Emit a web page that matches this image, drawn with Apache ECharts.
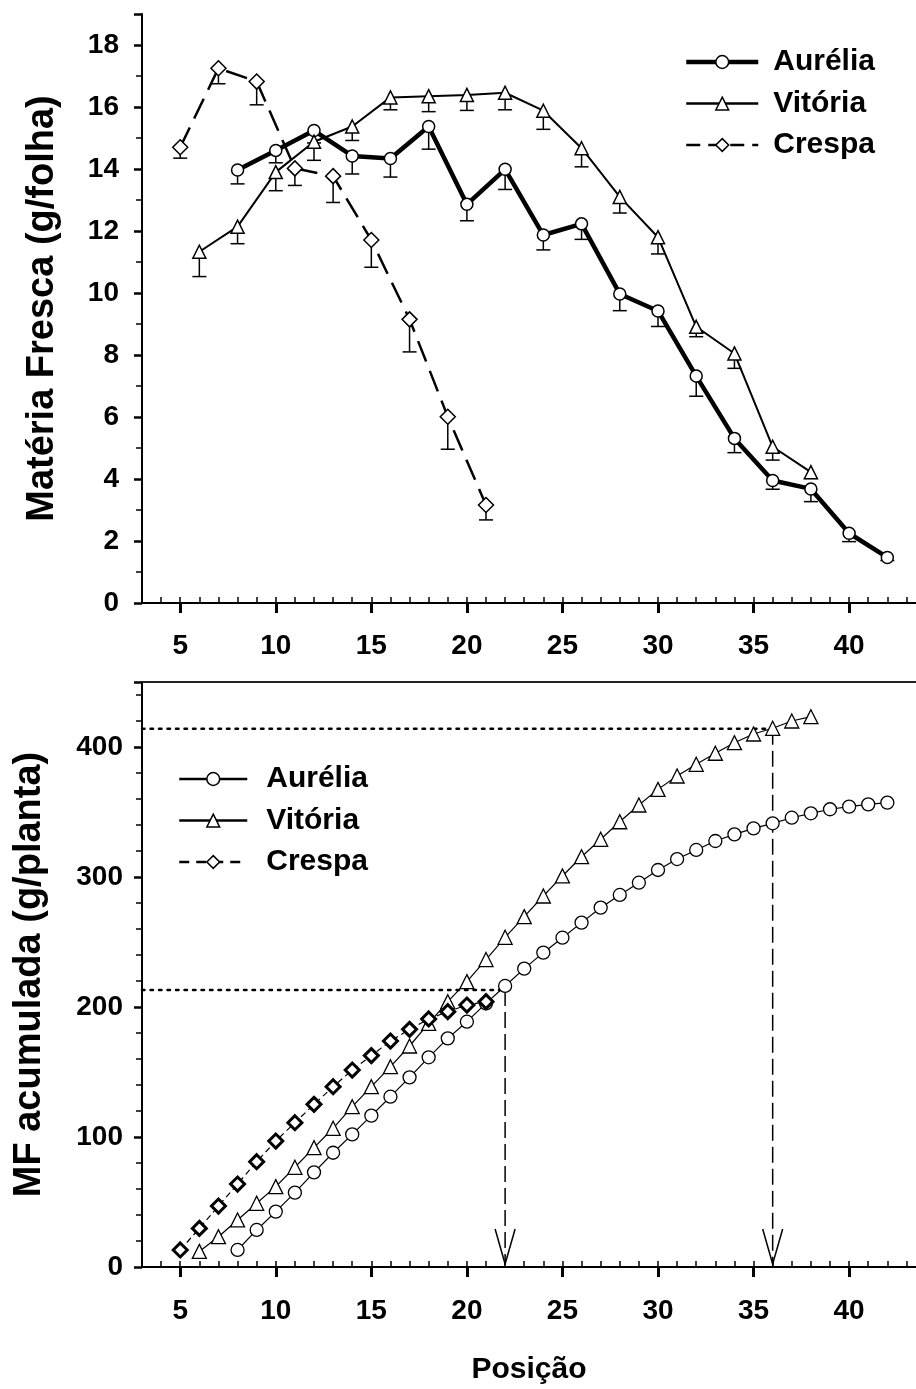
<!DOCTYPE html>
<html>
<head>
<meta charset="utf-8">
<title>Matéria fresca por posição da folha</title>
<script src="https://cdn.jsdelivr.net/npm/echarts@6/dist/echarts.min.js"></script>
<style>
  html, body { margin: 0; padding: 0; background: #fff; }
  #chart { width: 916px; height: 1389px; }
</style>
</head>
<body>
<div id="chart"></div>
<script>
// ---- Fresh mass per leaf (g/folha), by leaf position ----
const aureliaPos = [8, 10, 12, 14, 16, 18, 20, 22, 24, 26, 28, 30, 32, 34, 36, 38, 40, 42];
const aureliaMF  = [13.97, 14.6, 15.24, 14.42, 14.34, 15.37, 12.86, 13.99, 11.87, 12.23, 9.97, 9.42, 7.32, 5.31, 3.95, 3.68, 2.25, 1.47];
const aureliaErr = [0.45, 0.4, 0.4, 0.58, 0.6, 0.73, 0.53, 0.65, 0.48, 0.5, 0.54, 0.5, 0.65, 0.46, 0.28, 0.41, 0.27, 0.1];

const vitoriaPos = [6, 8, 10, 12, 14, 16, 18, 20, 22, 24, 26, 28, 30, 32, 34, 36, 38];
const vitoriaMF  = [11.33, 12.14, 13.9, 14.88, 15.37, 16.31, 16.35, 16.39, 16.46, 15.88, 14.67, 13.1, 11.8, 8.91, 8.05, 5.04, 4.22];
const vitoriaErr = [0.8, 0.55, 0.6, 0.6, 0.45, 0.4, 0.5, 0.5, 0.55, 0.6, 0.6, 0.52, 0.54, 0.32, 0.48, 0.43, 0.2];

const crespaPos = [5, 7, 9, 11, 13, 15, 17, 19, 21];
const crespaMF  = [14.7, 17.25, 16.82, 14.02, 13.77, 11.71, 9.15, 6.01, 3.16];
const crespaErr = [0.35, 0.5, 0.75, 0.55, 0.85, 0.88, 1.05, 1.05, 0.48];

// ---- Accumulated fresh mass (g/planta), by leaf position ----
const aureliaAccPos = [8, 9, 10, 11, 12, 13, 14, 15, 16, 17, 18, 19, 20, 21, 22, 23, 24, 25, 26, 27, 28, 29, 30, 31, 32, 33, 34, 35, 36, 37, 38, 39, 40, 41, 42];
const aureliaAcc = [13.1, 28.5, 42.6, 57.2, 72.8, 87.9, 102, 116.4, 131, 145.9, 161.3, 175.9, 188.7, 202.8, 216.2, 229.5, 241.8, 253.3, 264.9, 276.4, 286.2, 295.6, 305.4, 313.8, 320.8, 327.7, 332.8, 337.4, 341.3, 345.6, 349, 352.1, 354.1, 355.9, 357.2];

const vitoriaAccPos = [6, 7, 8, 9, 10, 11, 12, 13, 14, 15, 16, 17, 18, 19, 20, 21, 22, 23, 24, 25, 26, 27, 28, 29, 30, 31, 32, 33, 34, 35, 36, 37, 38];
const vitoriaAcc = [12, 23.3, 36.2, 49, 61.8, 76.7, 91.8, 106.7, 123.3, 138.7, 154.1, 170, 187.4, 204.1, 219.5, 236.5, 253.6, 269.5, 285.4, 300.8, 315.6, 329, 342.5, 355.4, 367.4, 377.7, 386.7, 395.2, 403.3, 410, 414.4, 420, 423.3];

const crespaAccPos = [5, 6, 7, 8, 9, 10, 11, 12, 13, 14, 15, 16, 17, 18, 19, 20, 21];
const crespaAcc = [13.1, 29.7, 46.9, 63.8, 81, 96.9, 111, 125.1, 138.7, 151.5, 162.6, 173.8, 182.8, 190.8, 196.4, 201.5, 204.1];

// Reference readings: position reached and accumulated mass level
const refPos   = [22, 36];
const refLevel = [213, 414];

// Axis ranges and tick positions
const xMin = 3, xMax = 43.5;
const xMajorTicks = [5, 10, 15, 20, 25, 30, 35, 40];
const xMinorTicks = [3, 4, 5, 6, 7, 8, 9, 10, 11, 12, 13, 14, 15, 16, 17, 18, 19, 20, 21, 22, 23, 24, 25, 26, 27, 28, 29, 30, 31, 32, 33, 34, 35, 36, 37, 38, 39, 40, 41, 42, 43];

const names = ['Aurélia', 'Vitória', 'Crespa'];

const zip = (xs, ys) => xs.map((x, i) => [x, ys[i]]);
const zip3 = (xs, ys, es) => xs.map((x, i) => [x, ys[i], es[i]]);

const FONT = "'Liberation Sans', Arial, sans-serif";
const BLACK = '#000';

function majorXAxis(gridIndex, withName) {
  const ax = {
    type: 'value', gridIndex, min: xMin, max: xMax,
    axisLine: { show: true, onZero: false, lineStyle: { color: BLACK, width: 2 } },
    axisTick: { show: true, inside: false, length: 10, customValues: xMajorTicks, lineStyle: { color: BLACK, width: 3 } },
    axisLabel: { show: true, customValues: xMajorTicks, margin: withName ? 30 : 29, color: BLACK, fontFamily: FONT, fontWeight: 'bold', fontSize: 28 },
    splitLine: { show: false }
  };
  if (withName) {
    Object.assign(ax, {
      name: 'Posição', nameLocation: 'middle', nameGap: 88,
      nameTextStyle: { color: BLACK, fontFamily: FONT, fontWeight: 'bold', fontSize: 30 }
    });
  }
  return ax;
}
function minorXAxis(gridIndex) {
  return {
    type: 'value', gridIndex, min: xMin, max: xMax,
    axisLine: { show: false },
    axisTick: { show: true, inside: false, length: 6, customValues: xMinorTicks, lineStyle: { color: BLACK, width: 1.5 } },
    axisLabel: { show: false },
    splitLine: { show: false }
  };
}

// Downward error bar with a horizontal cap
function errorBarItem(params, api) {
  const x = api.value(0), y = api.value(1), e = api.value(2);
  const p = api.coord([x, y]);
  const q = api.coord([x, y - e]);
  const style = { stroke: BLACK, lineWidth: 1.5 };
  return {
    type: 'group',
    children: [
      { type: 'line', shape: { x1: p[0], y1: p[1], x2: q[0], y2: q[1] }, style },
      { type: 'line', shape: { x1: q[0] - 7, y1: q[1], x2: q[0] + 7, y2: q[1] }, style }
    ]
  };
}

// Dotted level line from the y axis, dashed drop line to the x axis, open arrowhead
function refItem(params, api) {
  const x = api.value(0), lvl = api.value(1);
  const a = api.coord([xMin, lvl]);
  const b = api.coord([x, lvl]);
  const c = api.coord([x, 0]);
  return {
    type: 'group',
    children: [
      { type: 'line', shape: { x1: a[0], y1: a[1], x2: b[0], y2: b[1] },
        style: { stroke: BLACK, lineWidth: 2.5, lineDash: [2.5, 6], lineCap: 'round' } },
      { type: 'line', shape: { x1: b[0], y1: b[1], x2: c[0], y2: c[1] - 2 },
        style: { stroke: BLACK, lineWidth: 1.5, lineDash: [16, 6] } },
      { type: 'polyline', shape: { points: [[c[0] - 10, c[1] - 38], [c[0], c[1] - 3], [c[0] + 10, c[1] - 38]] },
        style: { stroke: BLACK, lineWidth: 1.5, fill: 'none' } }
    ]
  };
}

const topLineStyles = [
  { color: BLACK, width: 4.5, type: 'solid' },
  { color: BLACK, width: 2, type: 'solid' },
  { color: BLACK, width: 2.5, type: [22, 10] }
];
const topSymbols = [['circle', 12], ['triangle', 13], ['diamond', 15]];
const topData = [zip(aureliaPos, aureliaMF), zip(vitoriaPos, vitoriaMF), zip(crespaPos, crespaMF)];
const topErr = [zip3(aureliaPos, aureliaMF, aureliaErr), zip3(vitoriaPos, vitoriaMF, vitoriaErr), zip3(crespaPos, crespaMF, crespaErr)];

const botLineStyles = [
  { color: BLACK, width: 1.2, type: 'solid' },
  { color: BLACK, width: 1.2, type: 'solid' },
  { color: BLACK, width: 1.2, type: [6, 4] }
];
const botSymbols = [['circle', 13, 1.3], ['triangle', 14, 1.3], ['diamond', 14, 3]];
const botData = [zip(aureliaAccPos, aureliaAcc), zip(vitoriaAccPos, vitoriaAcc), zip(crespaAccPos, crespaAcc)];

const series = [];
// Error bars first so markers sit on top of them
topErr.forEach((d, i) => {
  series.push({
    type: 'custom', name: names[i] + ' erro', xAxisIndex: 0, yAxisIndex: 0,
    data: d, renderItem: errorBarItem, encode: { x: 0, y: 1 }, z: 1, silent: true
  });
});
topData.forEach((d, i) => {
  series.push({
    type: 'line', name: names[i], xAxisIndex: 0, yAxisIndex: 0, data: d,
    symbol: topSymbols[i][0], symbolSize: topSymbols[i][1], showAllSymbol: true,
    lineStyle: topLineStyles[i],
    itemStyle: { color: '#fff', borderColor: BLACK, borderWidth: 1.5 },
    z: 3, emphasis: { disabled: true }
  });
});
series.push({
  type: 'custom', name: 'referência', xAxisIndex: 2, yAxisIndex: 1,
  data: zip(refPos, refLevel), renderItem: refItem, encode: { x: 0, y: 1 }, z: 1, silent: true
});
botData.forEach((d, i) => {
  series.push({
    type: 'line', name: names[i], xAxisIndex: 2, yAxisIndex: 1, data: d,
    symbol: botSymbols[i][0], symbolSize: botSymbols[i][1], showAllSymbol: true,
    lineStyle: botLineStyles[i],
    itemStyle: { color: '#fff', borderColor: BLACK, borderWidth: botSymbols[i][2] },
    z: 3, emphasis: { disabled: true }
  });
});

const legendText = (pad) => ({ color: BLACK, fontFamily: FONT, fontWeight: 'bold', fontSize: 30, padding: [0, 0, 0, pad] });
const titleStyle = { color: BLACK, fontFamily: FONT, fontWeight: 'bold', fontSize: 38 };

const option = {
  animation: false,
  backgroundColor: '#fff',
  grid: [
    { left: 142, right: 0, top: 14, height: 589 },
    { left: 142, right: 0, top: 682, height: 585 }
  ],
  xAxis: [
    majorXAxis(0, false),
    minorXAxis(0),
    majorXAxis(1, true),
    minorXAxis(1),
    { // frame line along the top of the lower panel
      type: 'value', gridIndex: 1, position: 'top', min: xMin, max: xMax,
      axisLine: { show: true, onZero: false, lineStyle: { color: '#222', width: 2 } },
      axisTick: { show: false }, axisLabel: { show: false }, splitLine: { show: false }
    }
  ],
  yAxis: [
    {
      type: 'value', gridIndex: 0, min: 0, max: 19, interval: 2,
      name: 'Matéria Fresca (g/folha)', nameLocation: 'middle', nameGap: 80,
      nameTextStyle: titleStyle,
      axisLine: { show: true, onZero: false, lineStyle: { color: BLACK, width: 2 } },
      axisTick: { show: true, inside: false, length: 8, lineStyle: { color: BLACK, width: 2.5 } },
      minorTick: { show: true, splitNumber: 2, length: 6, lineStyle: { color: BLACK, width: 1.5 } },
      axisLabel: { color: BLACK, fontFamily: FONT, fontWeight: 'bold', fontSize: 28, margin: 23, showMaxLabel: false },
      splitLine: { show: false }, minorSplitLine: { show: false }
    },
    {
      type: 'value', gridIndex: 1, min: 0, max: 450, interval: 100,
      name: 'MF acumulada (g/planta)', nameLocation: 'middle', nameGap: 93,
      nameTextStyle: titleStyle,
      axisLine: { show: true, onZero: false, lineStyle: { color: BLACK, width: 2 } },
      axisTick: { show: true, inside: false, length: 8, lineStyle: { color: BLACK, width: 2.5 } },
      minorTick: { show: true, splitNumber: 5, length: 6, lineStyle: { color: BLACK, width: 1.5 } },
      axisLabel: { color: BLACK, fontFamily: FONT, fontWeight: 'bold', fontSize: 28, margin: 19, showMaxLabel: false },
      splitLine: { show: false }, minorSplitLine: { show: false }
    }
  ],
  legend: [
    {
      orient: 'vertical', left: 684, top: 47, padding: 0, itemWidth: 72, itemHeight: 16, itemGap: 11.5,
      selectedMode: false, textStyle: legendText(10),
      data: [
        { name: 'Aurélia', lineStyle: { width: 4.5, type: 'solid' }, itemStyle: { borderWidth: 1.5 } },
        { name: 'Vitória', lineStyle: { width: 2.5, type: 'solid' }, itemStyle: { borderWidth: 1.5 } },
        { name: 'Crespa', lineStyle: { width: 2.5, type: [14, 8] }, itemStyle: { borderWidth: 1.5 } }
      ]
    },
    {
      orient: 'vertical', left: 178, top: 764, padding: 0, itemWidth: 68, itemHeight: 16, itemGap: 11.5,
      selectedMode: false, textStyle: legendText(14),
      data: [
        { name: 'Aurélia', lineStyle: { width: 2.5, type: 'solid' }, itemStyle: { borderWidth: 1.5 } },
        { name: 'Vitória', lineStyle: { width: 2.5, type: 'solid' }, itemStyle: { borderWidth: 1.5 } },
        { name: 'Crespa', lineStyle: { width: 2.5, type: [10, 7] }, itemStyle: { borderWidth: 1.5 } }
      ]
    }
  ],
  series
};

const chart = echarts.init(document.getElementById('chart'), null, { renderer: 'canvas' });
chart.setOption(option);
</script>
</body>
</html>
